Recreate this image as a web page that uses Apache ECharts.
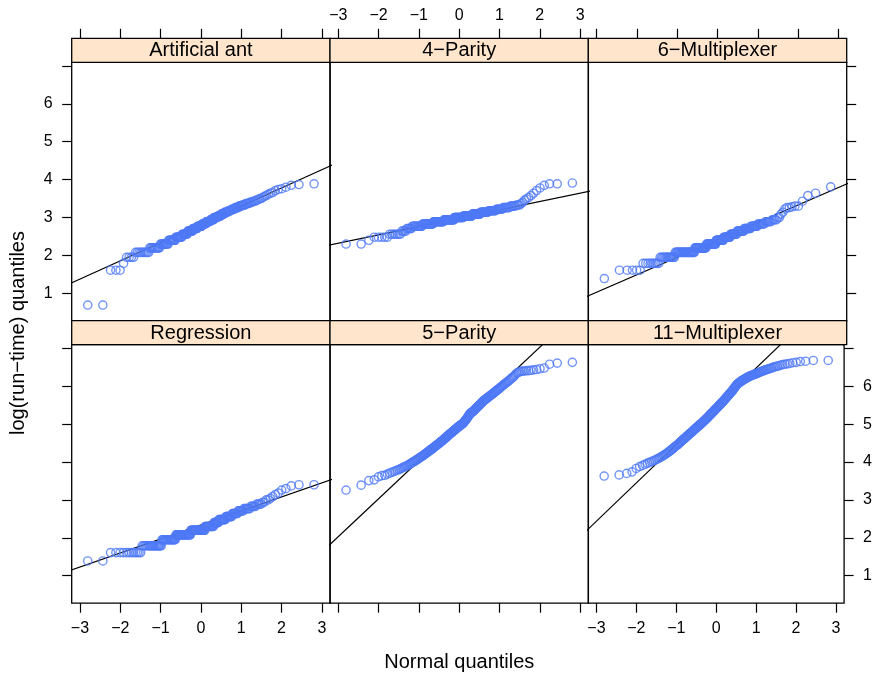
<!DOCTYPE html>
<html>
<head>
<meta charset="utf-8">
<script src="https://cdn.jsdelivr.net/npm/echarts@6/dist/echarts.min.js"></script>
<style>html,body{margin:0;padding:0;background:#fff;}#chart{width:875px;height:675px;}</style>
</head>
<body>
<div id="chart"></div>
<script>
// ---------- DATA (sorted log(run-time) values) ----------
// [value, count] runs for panels with tied values
const artificialAntRuns = [[0.69,2],[1.61,3],[1.79,1],[1.95,4],[2.08,10],[2.20,11],[2.30,11],[2.40,11],[2.48,11],[2.56,10],[2.64,10],[2.71,9],[2.77,9],[2.83,8],[2.89,8],[2.94,7],[3.00,7],[3.04,6],[3.09,6],[3.14,6],[3.18,5],[3.22,5],[3.26,5],[3.30,4],[3.33,4],[3.37,4],[3.40,3],[3.43,3],[3.47,2],[3.50,2],[3.53,1],[3.56,1],[3.58,1],[3.61,1],[3.64,1],[3.66,1],[3.71,1],[3.74,1],[3.76,1],[3.80,1],[3.85,1],[3.87,1],[3.89,1]];
const fourParityRuns = [[2.30,2],[2.40,1],[2.48,5],[2.56,7],[2.64,4],[2.71,5],[2.77,12],[2.83,16],[2.89,18],[2.94,20],[3.00,18],[3.04,17],[3.09,15],[3.14,13],[3.18,11],[3.22,8],[3.26,7],[3.30,5],[3.33,3],[3.37,1],[3.40,1],[3.46,1],[3.49,1],[3.53,1],[3.58,1],[3.64,1],[3.71,1],[3.78,1],[3.85,1],[3.89,2],[3.91,1]];
const sixMuxRuns = [[1.39,1],[1.61,5],[1.79,9],[1.95,14],[2.08,28],[2.20,21],[2.30,19],[2.40,15],[2.48,13],[2.56,12],[2.64,12],[2.71,10],[2.77,9],[2.83,8],[2.89,6],[2.94,4],[3.00,2],[3.09,1],[3.14,1],[3.22,1],[3.26,2],[3.28,1],[3.30,2],[3.43,1],[3.58,1],[3.64,1],[3.81,1]];
const regressionRuns = [[1.39,2],[1.61,12],[1.79,19],[1.95,20],[2.08,27],[2.20,28],[2.30,17],[2.40,9],[2.48,12],[2.56,10],[2.64,8],[2.71,7],[2.77,7],[2.83,5],[2.89,4],[2.94,2],[3.00,2],[3.04,1],[3.09,1],[3.14,1],[3.18,1],[3.26,1],[3.30,1],[3.37,1],[3.40,2]];
const fiveParity = [
3.26,3.39,3.51,3.53,3.61,3.64,3.65,3.68,3.71,3.73,
3.75,3.77,3.79,3.80,3.82,3.84,3.86,3.87,3.89,3.90,
3.92,3.94,3.95,3.97,3.99,4.00,4.02,4.03,4.05,4.06,
4.08,4.09,4.11,4.12,4.14,4.15,4.16,4.18,4.19,4.21,
4.22,4.24,4.25,4.26,4.28,4.29,4.30,4.32,4.33,4.34,
4.35,4.37,4.38,4.39,4.41,4.42,4.43,4.44,4.45,4.47,
4.48,4.49,4.50,4.52,4.53,4.54,4.55,4.56,4.57,4.59,
4.60,4.61,4.63,4.64,4.65,4.66,4.68,4.69,4.70,4.71,
4.72,4.74,4.75,4.76,4.77,4.78,4.79,4.81,4.82,4.83,
4.84,4.85,4.86,4.87,4.88,4.90,4.91,4.92,4.93,4.94,
4.95,4.96,4.97,4.98,4.99,5.00,5.01,5.02,5.03,5.05,
5.07,5.09,5.10,5.12,5.14,5.16,5.18,5.20,5.22,5.24,
5.26,5.28,5.29,5.30,5.31,5.32,5.33,5.34,5.36,5.37,
5.39,5.40,5.42,5.43,5.45,5.46,5.48,5.49,5.50,5.52,
5.54,5.55,5.57,5.58,5.60,5.62,5.63,5.64,5.65,5.66,
5.68,5.69,5.71,5.72,5.73,5.75,5.76,5.77,5.79,5.80,
5.82,5.83,5.85,5.87,5.88,5.90,5.92,5.93,5.95,5.97,
5.99,6.01,6.03,6.05,6.07,6.09,6.11,6.13,6.15,6.18,
6.21,6.23,6.26,6.30,6.34,6.36,6.38,6.39,6.40,6.40,
6.41,6.41,6.42,6.43,6.44,6.46,6.48,6.58,6.61,6.63];
const elevenMux = [
3.63,3.66,3.70,3.74,3.83,3.88,3.91,3.94,3.97,3.99,
4.01,4.03,4.05,4.07,4.09,4.11,4.13,4.15,4.17,4.19,
4.21,4.23,4.25,4.27,4.29,4.31,4.33,4.35,4.37,4.39,
4.41,4.43,4.44,4.46,4.48,4.50,4.52,4.53,4.55,4.57,
4.59,4.60,4.62,4.63,4.65,4.67,4.68,4.70,4.71,4.73,
4.74,4.76,4.77,4.78,4.80,4.81,4.83,4.84,4.86,4.87,
4.88,4.90,4.91,4.92,4.94,4.95,4.96,4.97,4.99,5.00,
5.01,5.02,5.04,5.05,5.06,5.08,5.09,5.10,5.12,5.13,
5.14,5.16,5.17,5.18,5.20,5.21,5.23,5.24,5.25,5.27,
5.28,5.29,5.31,5.32,5.33,5.35,5.36,5.38,5.39,5.40,
5.42,5.43,5.44,5.46,5.47,5.49,5.50,5.51,5.53,5.54,
5.56,5.57,5.58,5.60,5.61,5.63,5.64,5.66,5.67,5.69,
5.71,5.72,5.74,5.75,5.77,5.79,5.80,5.82,5.83,5.85,
5.87,5.88,5.90,5.92,5.94,5.96,5.98,6.00,6.02,6.04,
6.06,6.07,6.08,6.09,6.10,6.12,6.13,6.14,6.15,6.16,
6.17,6.18,6.19,6.20,6.21,6.22,6.23,6.24,6.25,6.26,
6.27,6.28,6.28,6.29,6.30,6.31,6.32,6.32,6.33,6.34,
6.35,6.36,6.37,6.38,6.39,6.40,6.41,6.42,6.43,6.44,
6.45,6.46,6.47,6.48,6.50,6.51,6.52,6.53,6.54,6.56,
6.57,6.58,6.59,6.60,6.62,6.63,6.65,6.66,6.68,6.68];

// panels in display order (top-left → bottom-right)
const panelNames = ["Artificial ant", "4\u2212Parity", "6\u2212Multiplexer", "Regression", "5\u2212Parity", "11\u2212Multiplexer"];
// reference (qq) lines: intercept and slope
const lineIntercepts = [2.82, 2.98, 2.41, 2.34, 5.03, 5.47];
const lineSlopes     = [0.481, 0.22, 0.46, 0.37, 1.00, 1.01];

const xTicks  = [-3, -2, -1, 0, 1, 2, 3];
const yTicks  = [1, 2, 3, 4, 5, 6, 7];
const yLabels = [1, 2, 3, 4, 5, 6];
const xTitle = "Normal quantiles";
const yTitle = "log(run\u2212time) quantiles";

// ---------- helpers ----------
function expand(runs) { const out = []; runs.forEach(([v, n]) => { for (let k = 0; k < n; k++) out.push(v); }); return out; }
// inverse standard normal CDF (theoretical quantiles for the qq plot)
function qnorm(p) {
  const a=[-3.969683028665376e+01,2.209460984245205e+02,-2.759285104469687e+02,1.383577518672690e+02,-3.066479806614716e+01,2.506628277459239e+00];
  const b=[-5.447609879822406e+01,1.615858368580409e+02,-1.556989798598866e+02,6.680131188771972e+01,-1.328068155288572e+01];
  const c=[-7.784894002430293e-03,-3.223964580411365e-01,-2.400758277161838e+00,-2.549732539343734e+00,4.374664141464968e+00,2.938163982698783e+00];
  const d=[7.784695709041462e-03,3.224671290700398e-01,2.445134137142996e+00,3.754408661907416e+00];
  const pl = 0.02425, ph = 1 - pl; let q, r;
  if (p < pl) { q = Math.sqrt(-2*Math.log(p)); return (((((c[0]*q+c[1])*q+c[2])*q+c[3])*q+c[4])*q+c[5])/((((d[0]*q+d[1])*q+d[2])*q+d[3])*q+1); }
  if (p > ph) { q = Math.sqrt(-2*Math.log(1-p)); return -(((((c[0]*q+c[1])*q+c[2])*q+c[3])*q+c[4])*q+c[5])/((((d[0]*q+d[1])*q+d[2])*q+d[3])*q+1); }
  q = p - 0.5; r = q*q;
  return (((((a[0]*r+a[1])*r+a[2])*r+a[3])*r+a[4])*r+a[5])*q/(((((b[0]*r+b[1])*r+b[2])*r+b[3])*r+b[4])*r+1);
}
function theoreticalQuantiles(n) { const out = []; for (let i = 1; i <= n; i++) out.push(qnorm((i - 0.5) / n)); return out; }

const panelValues = [expand(artificialAntRuns), expand(fourParityRuns), expand(sixMuxRuns), expand(regressionRuns), fiveParity, elevenMux];

// ---------- layout ----------
const COL_LEFT = [71.7, 330.0, 588.3], PANEL_W = 258.4;
const ROW_TOP = [62.3, 344.7], PANEL_H = 258.5, STRIP_H = 24;
const XMIN = -3.205, XMAX = 3.205, YMIN = 0.275, YMAX = 7.095;
const FONT = '"Liberation Sans", Arial, Helvetica, sans-serif';
const PT_COLOR = '#4f79f6';
const fmt = v => (v < 0 ? '\u2212' + Math.abs(v) : String(v));

const grids = [], xAxes = [], yAxes = [], series = [], graphics = [];
panelNames.forEach((name, i) => {
  const r = Math.floor(i / 3), c = i % 3;
  const left = COL_LEFT[c], top = ROW_TOP[r];
  grids.push({ left: left, top: top, width: PANEL_W, height: PANEL_H, show: true, borderColor: '#000', borderWidth: 1.3, backgroundColor: 'transparent', containLabel: false });
  xAxes.push({
    gridIndex: i, type: 'value', min: XMIN, max: XMAX,
    position: r === 0 ? 'top' : 'bottom', offset: r === 0 ? STRIP_H : 0,
    axisLine: { show: false, onZero: false }, splitLine: { show: false },
    axisTick: { show: true, inside: false, length: 9.5, customValues: xTicks, lineStyle: { color: '#000', width: 1.2 } },
    axisLabel: { show: (r === 0 && c === 1) || (r === 1 && c !== 1), customValues: xTicks, formatter: fmt,
      margin: r === 0 ? 15 : 17, fontSize: 16, color: '#000', fontFamily: FONT }
  });
  yAxes.push({
    gridIndex: i, type: 'value', min: YMIN, max: YMAX, position: c === 2 ? 'right' : 'left',
    axisLine: { show: false, onZero: false }, splitLine: { show: false },
    axisTick: { show: c !== 1, inside: false, length: 9.5, customValues: yTicks, lineStyle: { color: '#000', width: 1.2 } },
    axisLabel: { show: (c === 0 && r === 0) || (c === 2 && r === 1), customValues: yLabels, formatter: fmt,
      margin: 19, fontSize: 16, color: '#000', fontFamily: FONT }
  });
  // reference line first (drawn underneath the points, as lattice does)
  const a = lineIntercepts[i], b = lineSlopes[i];
  const x0 = XMIN - 0.2, x1 = XMAX + 0.2;
  series.push({
    type: 'line', xAxisIndex: i, yAxisIndex: i, silent: true, animation: false, clip: true, z: 1,
    data: [[x0, a + b * x0], [x1, a + b * x1]], symbol: 'none',
    lineStyle: { color: '#000', width: 1.2 }
  });
  const vals = panelValues[i];
  const qx = theoreticalQuantiles(vals.length);
  series.push({
    type: 'scatter', xAxisIndex: i, yAxisIndex: i, silent: true, animation: false, z: 3,
    data: vals.map((v, k) => [qx[k], v]),
    symbol: 'circle', symbolSize: 8.2,
    itemStyle: { color: 'rgba(0,0,0,0)', borderColor: PT_COLOR, borderWidth: 1.4 }
  });
  // strip
  graphics.push({ type: 'rect', shape: { x: left, y: top - STRIP_H, width: PANEL_W, height: STRIP_H },
    style: { fill: '#ffe5cc', stroke: '#000', lineWidth: 1.3 }, z: 10 });
  graphics.push({ type: 'text', x: left + PANEL_W / 2, y: top - STRIP_H / 2 + 0.5, z: 11,
    style: { text: name, fill: '#000', font: '20px ' + FONT, align: 'center', verticalAlign: 'middle' } });
});

graphics.push({ type: 'text', x: COL_LEFT[0] + 1.5 * PANEL_W, y: 662,
  style: { text: xTitle, fill: '#000', font: '20px ' + FONT, align: 'center', verticalAlign: 'middle' } });
graphics.push({ type: 'text', x: 18, y: 333, rotation: Math.PI / 2,
  style: { text: yTitle, fill: '#000', font: '20px ' + FONT, align: 'center', verticalAlign: 'middle' } });

const chart = echarts.init(document.getElementById('chart'), null, { renderer: 'canvas' });
chart.setOption({
  backgroundColor: '#fff', animation: false,
  grid: grids, xAxis: xAxes, yAxis: yAxes, series: series, graphic: graphics
});
</script>
</body>
</html>
